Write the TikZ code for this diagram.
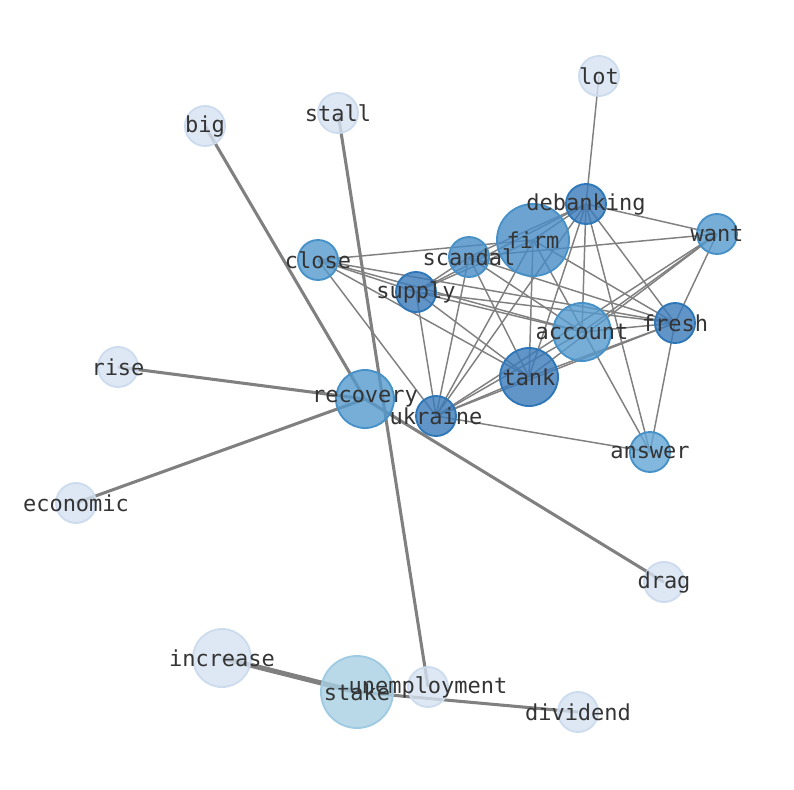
\documentclass[tikz,border=0pt]{standalone}
\usepackage{fontspec}
\setmonofont{DejaVu Sans Mono}
\definecolor{cLight}{RGB}{214,226,241}
\definecolor{cLightB}{RGB}{204,220,238}
\definecolor{cStake}{RGB}{168,208,228}
\definecolor{cStakeB}{RGB}{158,203,226}
\definecolor{cMed}{RGB}{84,154,206}
\definecolor{cMedB}{RGB}{70,145,200}
\definecolor{cMed2}{RGB}{72,140,198}
\definecolor{cDark}{RGB}{58,122,186}
\definecolor{cDarkB}{RGB}{45,118,184}
\definecolor{cAns}{RGB}{100,166,214}
\definecolor{edgec}{RGB}{128,128,128}
\definecolor{txt}{RGB}{52,52,52}
\tikzset{
  px/.style={x=0.75pt,y=-0.75pt},
  vtx/.style={circle,inner sep=0pt,fill opacity=0.8,line width=1.4pt},
  sm/.style={vtx,minimum size=30pt},
  md/.style={vtx,minimum size=43.5pt},
  lg/.style={vtx,minimum size=54pt},
  light/.style={fill=cLight,draw=cLightB},
  stakec/.style={fill=cStake,draw=cStakeB},
  med/.style={fill=cMed,draw=cMedB},
  med2/.style={fill=cMed2,draw=cMedB},
  dark/.style={fill=cDark,draw=cDarkB},
  ans/.style={fill=cAns,draw=cMedB},
  lbl/.style={font=\ttfamily\fontsize{16.5pt}{18pt}\selectfont,text=txt,inner sep=0pt},
  thin/.style={draw=edgec,line width=1.1pt},
  thick/.style={draw=edgec,line width=2.3pt},
  heavy/.style={draw=edgec,line width=3.8pt},
}
\begin{document}
\begin{tikzpicture}[px]
\useasboundingbox (0,0) rectangle (794,790);
% centres
\coordinate (lot) at (599,76);
\coordinate (big) at (205,126);
\coordinate (stall) at (338,113);
\coordinate (deb) at (586,204);
\coordinate (want) at (717,234);
\coordinate (firm) at (533,240);
\coordinate (scan) at (469,257);
\coordinate (close) at (318,260);
\coordinate (sup) at (416,292);
\coordinate (fresh) at (675,323);
\coordinate (acc) at (582,332);
\coordinate (tank) at (529,377);
\coordinate (rise) at (118,367);
\coordinate (rec) at (365,399);
\coordinate (ukr) at (436,416);
\coordinate (ans) at (650,452);
\coordinate (eco) at (76,503);
\coordinate (drag) at (664,582);
\coordinate (inc) at (222,658);
\coordinate (stake) at (357,692);
\coordinate (unemp) at (428,687);
\coordinate (div) at (578,712);
% thin edges
\foreach \a/\b in {deb/lot,deb/want,deb/firm,deb/scan,deb/sup,deb/fresh,deb/ans,deb/tank,deb/ukr,deb/acc,
  want/scan,want/fresh,want/tank,want/ukr,want/acc,
  firm/close,firm/ukr,firm/tank,firm/fresh,firm/sup,firm/ans,
  scan/sup,scan/ukr,scan/tank,scan/fresh,scan/acc,
  close/sup,close/acc,close/fresh,close/tank,close/ukr,
  sup/ukr,sup/tank,sup/fresh,sup/acc,
  fresh/tank,fresh/ukr,fresh/ans,fresh/acc,
  acc/ukr,tank/ukr,ukr/ans}
  \draw[thin] (\a) -- (\b);
% thick edges
\foreach \a/\b in {big/rec,rise/rec,eco/rec,rec/drag,stall/unemp,stake/div}
  \draw[thick] (\a) -- (\b);
\draw[heavy] (inc) -- (stake);
% vertices
\node[sm,light] (lot-c) at (lot) {};
\node[sm,light] (big-c) at (big) {};
\node[sm,light] (stall-c) at (stall) {};
\node[sm,dark] (deb-c) at (deb) {};
\node[sm,med] (want-c) at (want) {};
\node[lg,med2] (firm-c) at (firm) {};
\node[sm,med2] (scan-c) at (scan) {};
\node[sm,med] (close-c) at (close) {};
\node[sm,dark] (sup-c) at (sup) {};
\node[sm,dark] (fresh-c) at (fresh) {};
\node[md,med] (acc-c) at (acc) {};
\node[md,dark] (tank-c) at (tank) {};
\node[sm,light] (rise-c) at (rise) {};
\node[md,med] (rec-c) at (rec) {};
\node[sm,dark] (ukr-c) at (ukr) {};
\node[sm,ans] (ans-c) at (ans) {};
\node[sm,light] (eco-c) at (eco) {};
\node[sm,light] (drag-c) at (drag) {};
\node[md,light] (inc-c) at (inc) {};
\node[lg,stakec] (stake-c) at (stake) {};
\node[sm,light] (unemp-c) at (unemp) {};
\node[sm,light] (div-c) at (div) {};
% labels
\node[lbl] (lot-l) at (lot) {lot};
\node[lbl] (big-l) at (big) {big};
\node[lbl] (stall-l) at (stall) {stall};
\node[lbl] (deb-l) at (deb) {debanking};
\node[lbl] (want-l) at (want) {want};
\node[lbl] (firm-l) at (firm) {firm};
\node[lbl] (scan-l) at (scan) {scandal};
\node[lbl] (close-l) at (close) {close};
\node[lbl] (sup-l) at (sup) {supply};
\node[lbl] (fresh-l) at (fresh) {fresh};
\node[lbl] (acc-l) at (acc) {account};
\node[lbl] (tank-l) at (tank) {tank};
\node[lbl] (rise-l) at (rise) {rise};
\node[lbl] (rec-l) at (rec) {recovery};
\node[lbl] (ukr-l) at (ukr) {ukraine};
\node[lbl] (ans-l) at (ans) {answer};
\node[lbl] (eco-l) at (eco) {economic};
\node[lbl] (drag-l) at (drag) {drag};
\node[lbl] (inc-l) at (inc) {increase};
\node[lbl] (stake-l) at (stake) {stake};
\node[lbl] (unemp-l) at (unemp) {unemployment};
\node[lbl] (div-l) at (div) {dividend};
\end{tikzpicture}
\end{document}
